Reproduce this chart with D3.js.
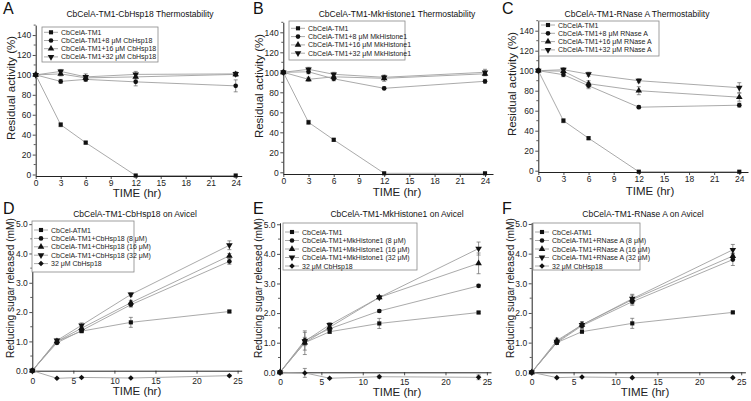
<!DOCTYPE html>
<html><head><meta charset="utf-8">
<script src="https://cdn.jsdelivr.net/npm/d3@7"></script>
<style>body{margin:0;background:#fff}svg{display:block;font-family:"Liberation Sans",Arial,sans-serif}</style>
</head><body><svg id="c" width="751" height="401"></svg>
<script>
// ---------- DATA ----------
const times = [0, 3, 6, 12, 24];
const thermXTicks = [0, 3, 6, 9, 12, 15, 18, 21, 24];
const thermYTicks = [0, 20, 40, 60, 80, 100, 120, 140];
const avicelXTicks = [0, 5, 10, 15, 20, 25];
const avicelYTicks = [0, 1, 2, 3, 4, 5];

// Panel A
const aTM1 = [100, 50, 32, -1, -1];
const a8 = [100, 93.5, 95.5, 93, 89];
const a16 = [100, 101, 97, 98, 100.5];
const a32 = [100, 103.5, 98, 100.5, 101];
const aErrTM1 = [0, 2, 1.5, 0, 0];
const aErr8 = [0, 2, 2, 4, 6];
const aErr16 = [0, 2, 2, 3, 2];
const aErr32 = [0, 2, 3, 3, 2];
// Panel B
const bTM1 = [100, 50, 32.5, -1, -1];
const b8 = [100, 100.5, 93.5, 84, 91];
const b16 = [100, 93, 95.5, 94, 98.5];
const b32 = [100, 103, 98, 95, 100];
const bErrTM1 = [0, 2, 1.5, 0, 0];
const bErr8 = [0, 2, 2, 1.5, 2];
const bErr16 = [0, 2, 2, 3, 2];
const bErr32 = [0, 2, 2, 2, 3];
// Panel C
const cTM1 = [100, 50, 32.5, -1, -1];
const c8 = [100, 96, 85, 63.5, 65.5];
const c16 = [100, 99.5, 87, 80, 73.5];
const c32 = [100, 101, 96.5, 90, 83];
const cErrTM1 = [0, 2, 1.5, 0, 0];
const cErr8 = [0, 2, 3, 1.5, 2];
const cErr16 = [0, 2, 3, 4, 4];
const cErr32 = [0, 2, 2, 2, 5];
// Panel D
const dTM1 = [0, 1.0, 1.35, 1.65, 2.02];
const d8 = [0, 0.95, 1.37, 2.25, 3.73];
const d16 = [0, 1.0, 1.45, 2.32, 3.92];
const d32 = [0, 1.03, 1.55, 2.6, 4.28];
const dCtrl = [0, -0.26, -0.23, -0.25, -0.17];
const dErrTM1 = [0, 0.05, 0.05, 0.17, 0.04];
const dErr8 = [0, 0.05, 0.05, 0.08, 0.1];
const dErr16 = [0, 0.05, 0.06, 0.08, 0.08];
const dErr32 = [0, 0.05, 0.08, 0.06, 0.15];
const dErrCtrl = [0, 0.02, 0.02, 0.02, 0.03];
// Panel E
const eTM1 = [0, 1.0, 1.37, 1.65, 2.02];
const e8 = [0, 1.08, 1.47, 2.07, 2.92];
const e16 = [0, 1.0, 1.52, 2.53, 3.68];
const e32 = [0, 1.05, 1.6, 2.53, 4.18];
const eCtrl = [0, -0.02, -0.2, -0.15, -0.17];
const eErrTM1 = [0, 0.1, 0.05, 0.17, 0.04];
const eErr8 = [0, 0.1, 0.05, 0.05, 0.05];
const eErr16 = [0, 0.4, 0.08, 0.05, 0.35];
const eErr32 = [0, 0.3, 0.08, 0.05, 0.22];
const eErrCtrl = [0, 0.15, 0.02, 0.05, 0.08];
// Panel F
const fTM1 = [0, 1.0, 1.37, 1.65, 2.02];
const f8 = [0, 1.0, 1.57, 2.38, 3.8];
const f16 = [0, 1.07, 1.6, 2.45, 3.92];
const f32 = [0, 1.03, 1.6, 2.48, 4.13];
const fCtrl = [0, -0.18, -0.16, -0.18, -0.18];
const fErrTM1 = [0, 0.05, 0.05, 0.17, 0.04];
const fErr8 = [0, 0.05, 0.1, 0.12, 0.2];
const fErr16 = [0, 0.08, 0.1, 0.15, 0.1];
const fErr32 = [0, 0.05, 0.1, 0.15, 0.18];
const fErrCtrl = [0, 0.02, 0.02, 0.02, 0.02];

const legA = ["CbCelA-TM1", "CbCelA-TM1+8 \u03bcM CbHsp18", "CbCelA-TM1+16 \u03bcM CbHsp18", "CbCelA-TM1+32 \u03bcM CbHsp18"];
const legB = ["CbCelA-TM1", "CbCelA-TM1+8 \u03bcM MkHistone1", "CbCelA-TM1+16 \u03bcM MkHistone1", "CbCelA-TM1+32 \u03bcM MkHistone1"];
const legC = ["CbCelA-TM1", "CbCelA-TM1+8 \u03bcM RNase A", "CbCelA-TM1+16 \u03bcM RNase A", "CbCelA-TM1+32 \u03bcM RNase A"];
const legD = ["CbCel-ATM1", "CbCelA-TM1+CbHsp18 (8 \u03bcM)", "CbCelA-TM1+CbHsp18 (16 \u03bcM)", "CbCelA-TM1+CbHsp18 (32 \u03bcM)", "32 \u03bcM CbHsp18"];
const legE = ["CbCelA-TM1", "CbCelA-TM1+MkHistone1 (8 \u03bcM)", "CbCelA-TM1+MkHistone1 (16 \u03bcM)", "CbCelA-TM1+MkHistone1 (32 \u03bcM)", "32 \u03bcM CbHsp18"];
const legF = ["CbCel-ATM1", "CbCelA-TM1+RNase A (8 \u03bcM)", "CbCelA-TM1+RNase A (16 \u03bcM)", "CbCelA-TM1+RNase A (32 \u03bcM)", "32 \u03bcM CbHsp18"];

const titles = ["CbCelA-TM1-CbHsp18 Thermostability", "CbCelA-TM1-MkHistone1 Thermostability", "CbCelA-TM1-RNase A Thermostability",
  "CbCelA-TM1-CbHsp18 on Avicel", "CbCelA-TM1-MkHistone1 on Avicel", "CbCelA-TM1-RNase A on Avicel"];
const letters = ["A", "B", "C", "D", "E", "F"];
const markerKinds = ["square", "circle", "up", "down", "diamond"];

// ---------- LAYOUT ----------
const panels = [
  {series: [aTM1, a8, a16, a32], errs: [aErrTM1, aErr8, aErr16, aErr32], leg: legA, therm: true,
   xr: [35.7, 241.7], xd: [0, 24.72], yr: [176, 25.1], yd: [-1.5, 150],
   letter: [3, 14], title: [140, 17], yl: [11, 88], xl: [137, 197], lg: [42, 27, 158, 62, 32.3, 8.2]},
  {series: [bTM1, b8, b16, b32], errs: [bErrTM1, bErr8, bErr16, bErr32], leg: legB, therm: true,
   xr: [283.3, 493], xd: [0, 24.95], yr: [174, 22.3], yd: [-1.7, 150],
   letter: [253, 14], title: [397, 17], yl: [259, 86], xl: [397, 196], lg: [289, 21, 405, 60, 28.3, 8.3]},
  {series: [cTM1, c8, c16, c32], errs: [cErrTM1, cErr8, cErr16, cErr32], leg: legC, therm: true,
   xr: [538.3, 748], xd: [0, 25.04], yr: [172, 20.7], yd: [-1.3, 150],
   letter: [502, 14], title: [637, 17], yl: [512, 84], xl: [650, 195], lg: [539, 21, 659, 56, 25, 8.3]},
  {series: [dTM1, d8, d16, d32, dCtrl], errs: [dErrTM1, dErr8, dErr16, dErr32, dErrCtrl], leg: legD, therm: false,
   xr: [32.3, 241.7], xd: [0, 25.5], yr: [370.7, 222.7], yd: [0, 5.05],
   letter: [3, 214], title: [135, 217], yl: [10, 288], xl: [137, 395], lg: [32, 221, 134, 272, 230, 8.4]},
  {series: [eTM1, e8, e16, e32, eCtrl], errs: [eErrTM1, eErr8, eErr16, eErr32, eErrCtrl], leg: legE, therm: false,
   xr: [280, 491], xd: [0, 25.5], yr: [372.3, 222.8], yd: [0, 5.05],
   letter: [253, 214], title: [397, 217], yl: [258, 288], xl: [397, 396], lg: [283, 223, 417, 270, 232, 8.5]},
  {series: [fTM1, f8, f16, f32, fCtrl], errs: [fErrTM1, fErr8, fErr16, fErr32, fErrCtrl], leg: legF, therm: false,
   xr: [531.7, 745.4], xd: [0, 25.5], yr: [372.3, 222.5], yd: [0, 5.05],
   letter: [502, 214], title: [643, 217], yl: [510, 288], xl: [645, 396], lg: [533, 223, 640, 270, 232, 8.5]}
];

const svg = d3.select("#c");
const LINE = "#a0a0a0", INK = "#111", TXT = "#222";

function markerPath(kind, size) {
  if (kind === "square") return d3.symbol(d3.symbolSquare, size)();
  if (kind === "circle") return d3.symbol(d3.symbolCircle, size)();
  if (kind === "up" || kind === "down") return d3.symbol(d3.symbolTriangle, size * 1.1)();
  return d3.symbol(d3.symbolSquare, size * 0.9)();
}
function markerRot(kind) { return kind === "down" ? 180 : kind === "diamond" ? 45 : 0; }
function drawMarker(g, kind, cx, cy) {
  g.append("path").attr("d", markerPath(kind, 17))
    .attr("transform", `translate(${cx},${cy}) rotate(${markerRot(kind)})`)
    .attr("fill", INK);
}

panels.forEach((p, i) => {
  const x = d3.scaleLinear().domain(p.xd).range(p.xr);
  const y = d3.scaleLinear().domain(p.yd).range(p.yr);
  const g = svg.append("g");
  const xTicks = p.therm ? thermXTicks : avicelXTicks;
  const yTicks = p.therm ? thermYTicks : avicelYTicks;
  const axisY = p.therm ? p.yd[0] : 0;

  // minor ticks on y
  const minorStep = p.therm ? 10 : 0.5;
  const minors = d3.range(0, p.yd[1] + 1e-9, minorStep).filter(v => !yTicks.includes(+v.toFixed(3)));
  g.append("g").selectAll("line").data(minors).join("line")
    .attr("x1", p.xr[0] - 2).attr("x2", p.xr[0]).attr("y1", d => y(d)).attr("y2", d => y(d))
    .attr("stroke", "#333").attr("stroke-width", 0.8);

  const ya = g.append("g").attr("transform", `translate(${p.xr[0]},0)`)
    .call(d3.axisLeft(y).tickValues(yTicks).tickSize(3).tickSizeOuter(0).tickPadding(1.5));
  const xa = g.append("g").attr("transform", `translate(0,${y(axisY)})`)
    .call(d3.axisBottom(x).tickValues(xTicks).tickSize(3).tickSizeOuter(0).tickPadding(p.therm ? 1 : 4));
  [ya, xa].forEach(a => {
    a.selectAll("path").attr("stroke", "#222").attr("stroke-width", 1);
    a.selectAll("line").attr("stroke", "#222").attr("stroke-width", 0.8);
    a.selectAll("text").attr("font-size", 8.5).attr("fill", TXT).attr("font-family", "'Liberation Sans',Arial,sans-serif");
  });

  // series lines
  const line = d3.line().x((d, j) => x(times[j])).y(d => y(d));
  p.series.forEach((s, k) => {
    g.append("path").attr("d", line(s)).attr("fill", "none").attr("stroke", LINE).attr("stroke-width", 0.9);
  });
  // error bars
  p.series.forEach((s, k) => {
    s.forEach((v, j) => {
      const e = p.errs[k][j];
      if (!e) return;
      const cx = x(times[j]);
      const eg = g.append("g").attr("stroke", "#666").attr("stroke-width", 0.7);
      eg.append("line").attr("x1", cx).attr("x2", cx).attr("y1", y(v - e)).attr("y2", y(v + e));
      eg.append("line").attr("x1", cx - 2).attr("x2", cx + 2).attr("y1", y(v - e)).attr("y2", y(v - e));
      eg.append("line").attr("x1", cx - 2).attr("x2", cx + 2).attr("y1", y(v + e)).attr("y2", y(v + e));
    });
  });
  // markers
  p.series.forEach((s, k) => {
    s.forEach((v, j) => drawMarker(g, markerKinds[k], x(times[j]), y(v)));
  });

  // legend
  const [lx0, ly0, lx1, ly1, first, step] = p.lg;
  g.append("rect").attr("x", lx0).attr("y", ly0).attr("width", lx1 - lx0).attr("height", ly1 - ly0)
    .attr("fill", "#fff").attr("stroke", "#888").attr("stroke-width", 0.8);
  p.leg.forEach((t, k) => {
    const cy = first + k * step;
    g.append("line").attr("x1", lx0 + 2).attr("x2", lx0 + 16).attr("y1", cy).attr("y2", cy)
      .attr("stroke", LINE).attr("stroke-width", 0.9);
    drawMarker(g, markerKinds[k], lx0 + 9, cy);
    g.append("text").attr("x", lx0 + 19).attr("y", cy + 2.5).attr("font-size", 7).attr("fill", TXT).text(t);
  });

  // texts
  g.append("text").attr("x", p.letter[0]).attr("y", p.letter[1]).attr("font-size", 16).attr("fill", "#111").text(letters[i]);
  g.append("text").attr("x", p.title[0]).attr("y", p.title[1]).attr("text-anchor", "middle").attr("font-size", 8.5).attr("fill", "#111").text(titles[i]);
  g.append("text").attr("transform", `translate(${p.yl[0]},${p.yl[1]}) rotate(-90)`).attr("text-anchor", "middle")
    .attr("dy", "0.35em").attr("font-size", p.therm ? 11.5 : 10.2).attr("fill", TXT).text(p.therm ? "Residual activity (%)" : "Reducing sugar released (mM)");
  g.append("text").attr("x", p.xl[0]).attr("y", p.xl[1]).attr("text-anchor", "middle").attr("font-size", 11.5).attr("fill", TXT).text("TIME (hr)");
});
</script>
</body></html>
